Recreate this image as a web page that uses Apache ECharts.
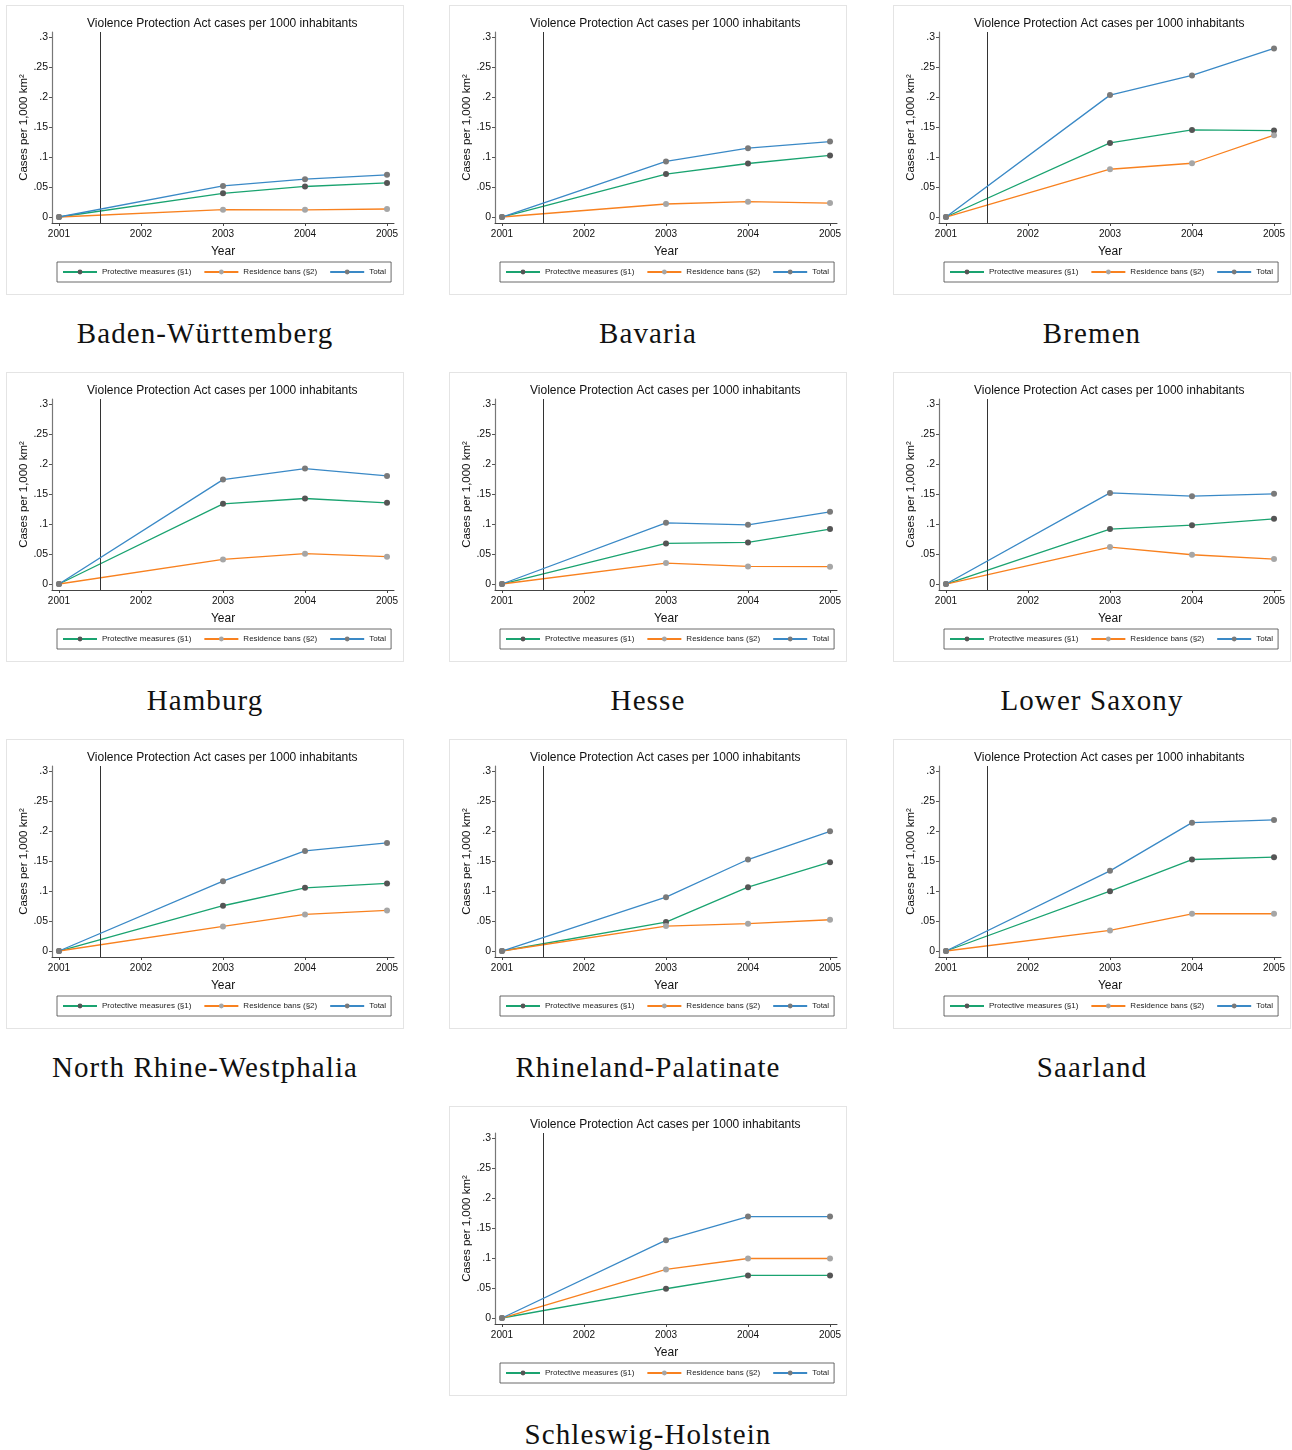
<!DOCTYPE html>
<html>
<head>
<meta charset="utf-8">
<script src="https://cdn.jsdelivr.net/npm/echarts@6/dist/echarts.min.js"></script>
<style>
  html, body { margin: 0; padding: 0; background: #ffffff; }
  body { width: 1292px; height: 1450px; position: relative; overflow: hidden; }
  .panel { position: absolute; width: 398px; height: 290px; box-sizing: border-box; border: 1px solid #e4e4e4; background: #fff; }
  .caption { position: absolute; width: 398px; text-align: center; font-family: "Liberation Serif", "DejaVu Serif", serif; font-size: 29px; line-height: 34px; letter-spacing: 1.1px; color: #111; }
</style>
</head>
<body>
<script>
// ---- Data ----
const states = [
  "Baden-Württemberg", "Bavaria", "Bremen",
  "Hamburg", "Hesse", "Lower Saxony",
  "North Rhine-Westphalia", "Rhineland-Palatinate", "Saarland",
  "Schleswig-Holstein"
];
const years = [2001, 2003, 2004, 2005];
const xTickYears = [2001, 2002, 2003, 2004, 2005];
const yTickValues = [0, 0.05, 0.1, 0.15, 0.2, 0.25, 0.3];
const seriesNames = ["Protective measures (§1)", "Residence bans (§2)", "Total"];
const interventionYear = 2001.5;

// Protective measures (§1), per state, values at 2001, 2003, 2004, 2005
const protectiveMeasures = [
  [0, 0.0396, 0.0510, 0.0570],
  [0, 0.0717, 0.0894, 0.1028],
  [0, 0.1238, 0.1455, 0.1444],
  [0, 0.1339, 0.1428, 0.1356],
  [0, 0.0678, 0.0694, 0.0917],
  [0, 0.0917, 0.0983, 0.1089],
  [0, 0.0756, 0.1056, 0.1128],
  [0, 0.0483, 0.1067, 0.1483],
  [0, 0.1000, 0.1528, 0.1567],
  [0, 0.0489, 0.0711, 0.0711]
];
// Residence bans (§2)
const residenceBans = [
  [0, 0.0123, 0.0120, 0.0134],
  [0, 0.0217, 0.0256, 0.0233],
  [0, 0.0798, 0.0898, 0.1366],
  [0, 0.0411, 0.0506, 0.0456],
  [0, 0.0350, 0.0294, 0.0289],
  [0, 0.0617, 0.0489, 0.0417],
  [0, 0.0411, 0.0611, 0.0678],
  [0, 0.0417, 0.0456, 0.0522],
  [0, 0.0344, 0.0622, 0.0622],
  [0, 0.0811, 0.0994, 0.0994]
];
// Total
const totalCases = [
  [0, 0.0519, 0.0632, 0.0705],
  [0, 0.0928, 0.1150, 0.1260],
  [0, 0.2036, 0.2364, 0.2816],
  [0, 0.1744, 0.1928, 0.1806],
  [0, 0.1022, 0.0989, 0.1206],
  [0, 0.1522, 0.1467, 0.1506],
  [0, 0.1167, 0.1672, 0.1806],
  [0, 0.0900, 0.1528, 0.2000],
  [0, 0.1339, 0.2144, 0.2189],
  [0, 0.1300, 0.1694, 0.1694]
];

// ---- Layout ----
const panelLefts = [6, 449, 893];
const panelTops = [5, 372, 739, 1106];
const positions = [
  [0,0],[1,0],[2,0],
  [0,1],[1,1],[2,1],
  [0,2],[1,2],[2,2],
  [1,3]
];

const lineColors = ["#1aa370", "#f8811f", "#3a89c6"];
const markerColors = ["#555555", "#a6a6a6", "#7a7a7a"];
const FONT = "Liberation Sans, Arial, Helvetica, sans-serif";

function yFmt(v) {
  if (Math.abs(v) < 1e-9) return "0";
  return String(+v.toFixed(2)).replace(/^0/, "");
}

states.forEach(function (name, idx) {
  const col = positions[idx][0], row = positions[idx][1];
  const left = panelLefts[col], top = panelTops[row];

  const div = document.createElement("div");
  div.className = "panel";
  div.style.left = left + "px";
  div.style.top = top + "px";
  document.body.appendChild(div);

  const cap = document.createElement("div");
  cap.className = "caption";
  cap.style.left = left + "px";
  cap.style.top = (top + 311) + "px";
  cap.textContent = name;
  document.body.appendChild(cap);

  const chart = echarts.init(div, null, { renderer: "canvas", width: 396, height: 288 });
  const vals = [protectiveMeasures[idx], residenceBans[idx], totalCases[idx]];

  const series = seriesNames.map(function (sn, k) {
    const s = {
      name: sn,
      type: "line",
      data: years.map(function (y, i) { return [y, vals[k][i]]; }),
      symbol: "circle",
      symbolSize: 6,
      showSymbol: true,
      lineStyle: { color: lineColors[k], width: 1.3 },
      itemStyle: { color: markerColors[k] },
      emphasis: { disabled: true },
      z: 3 + k
    };
    if (k === 2) {
      s.markLine = {
        silent: true,
        symbol: ["none", "none"],
        label: { show: false },
        lineStyle: { color: "#333333", type: "solid", width: 1 },
        data: [{ xAxis: interventionYear }],
        animation: false
      };
    }
    return s;
  });

  chart.setOption({
    animation: false,
    textStyle: { fontFamily: FONT },
    grid: { left: 45, right: 9, top: 26, bottom: 71, outerBoundsMode: "none", containLabel: false },
    graphic: [{
      type: "text",
      left: 216 - 136,
      top: 12,
      style: {
        text: "Violence Protection Act cases per 1000 inhabitants",
        font: "12px " + FONT,
        fill: "#111"
      }
    }],
    xAxis: {
      type: "value",
      min: 2000.915,
      max: 2005.085,
      name: "Year",
      nameLocation: "middle",
      nameGap: 23,
      nameMoveOverlap: false,
      nameTextStyle: { fontSize: 12, color: "#111", fontFamily: FONT },
      axisLine: { show: true, onZero: false, lineStyle: { color: "#444", width: 1 } },
      axisTick: { show: true, length: 3, customValues: xTickYears, lineStyle: { color: "#444" } },
      axisLabel: { customValues: xTickYears, fontSize: 10, color: "#111", margin: 6, formatter: function (v) { return String(v); } },
      splitLine: { show: false }
    },
    yAxis: {
      type: "value",
      min: -0.01,
      max: 0.309,
      name: "Cases per 1,000 km²",
      nameLocation: "middle",
      nameRotate: 90,
      nameGap: 22,
      nameMoveOverlap: false,
      nameTextStyle: { fontSize: 11.5, color: "#111", fontFamily: FONT },
      axisLine: { show: true, onZero: false, lineStyle: { color: "#777", width: 1.2 } },
      axisTick: { show: true, length: 3, customValues: yTickValues, lineStyle: { color: "#555" } },
      axisLabel: { customValues: yTickValues, fontSize: 10.5, color: "#111", margin: 4, formatter: yFmt },
      splitLine: { show: false }
    },
    legend: {
      data: seriesNames,
      left: 50,
      top: 256,
      orient: "horizontal",
      borderColor: "#444",
      borderWidth: 0.8,
      padding: [6, 5, 6, 5],
      itemGap: 12,
      itemWidth: 34,
      itemHeight: 6,
      selectedMode: false,
      textStyle: { fontSize: 8, color: "#222", fontFamily: FONT }
    },
    series: series
  });
});
</script>
</body>
</html>
